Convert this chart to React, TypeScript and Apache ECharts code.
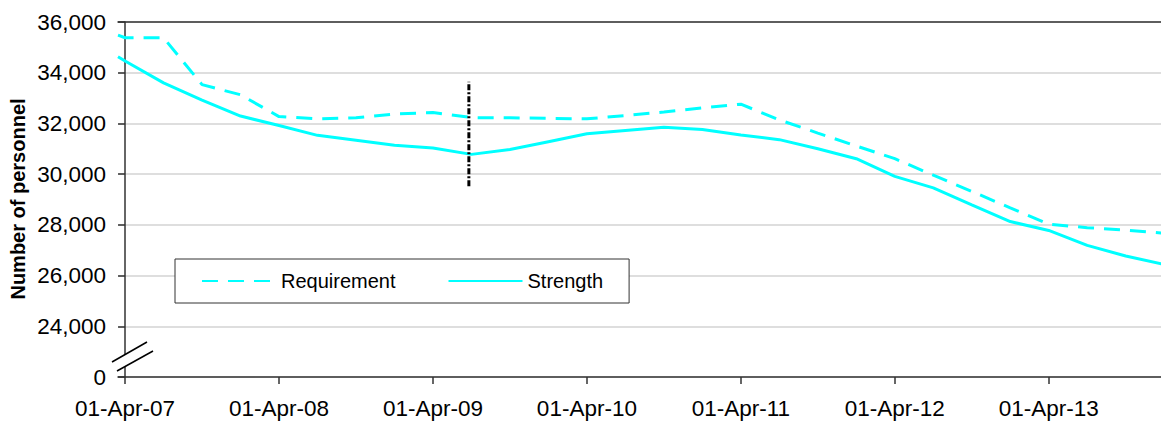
import React, { useEffect, useRef } from 'react';
import * as echarts from 'echarts';

// Months since 01-Apr-07 (quarterly observations; first one is mid-March 2007)
const months = [-0.55, 0, 3, 6, 9, 12, 15, 18, 21, 24, 27, 30, 33, 36, 39, 42, 45, 48, 51, 54, 57, 60, 63, 66, 69, 72, 75, 78, 81];

const requirement = [35480, 35380, 35380, 33530, 33130, 32270, 32180, 32220, 32370, 32430, 32230, 32220, 32200, 32180, 32310, 32450, 32610, 32760, 32140, 31620, 31110, 30610, 29960, 29320, 28670, 28030, 27890, 27790, 27670];

const strength = [34630, 34460, 33600, 32920, 32290, 31920, 31530, 31340, 31140, 31030, 30780, 30970, 31280, 31590, 31720, 31850, 31760, 31540, 31360, 31000, 30610, 29910, 29460, 28790, 28130, 27780, 27190, 26770, 26440];

const seriesNames = ['Requirement', 'Strength'];

const xTickMonths = [0, 12, 24, 36, 48, 60, 72];
const xTickLabels = ['01-Apr-07', '01-Apr-08', '01-Apr-09', '01-Apr-10', '01-Apr-11', '01-Apr-12', '01-Apr-13'];

// y axis is broken: the bottom tick (22,000 on the scale) is labelled 0
const yTicks = [22000, 24000, 26000, 28000, 30000, 32000, 34000, 36000];
const yTickLabels = ['0', '24,000', '26,000', '28,000', '30,000', '32,000', '34,000', '36,000'];

// vertical dash-dot marker line
const markerMonth = 26.8;
const markerRange = [29520, 33640];

const yTitle = 'Number of personnel';

export default function App() {
  const ref = useRef<HTMLDivElement>(null);

  useEffect(() => {
    const chart = echarts.init(ref.current!, null, { renderer: 'svg' });
    const font = '"Liberation Sans", Arial, sans-serif';
    const axisLine = { color: '#333333', width: 1.5 };
    const cyan = '#00FFFF';

    chart.setOption({
      animation: false,
      backgroundColor: '#ffffff',
      grid: { left: 118, right: 0, top: 22, bottom: 46, containLabel: false },
      xAxis: [
        {
          type: 'value',
          min: -0.55,
          max: 80.75,
          axisLine: { show: true, onZero: false, lineStyle: axisLine },
          axisTick: { show: true, length: 7, customValues: xTickMonths, lineStyle: axisLine },
          axisLabel: {
            customValues: xTickMonths,
            formatter: (v: number) => {
              const i = xTickMonths.indexOf(Math.round(v));
              return i >= 0 ? xTickLabels[i] : '';
            },
            fontSize: 22.5,
            color: '#000',
            fontFamily: font,
            margin: 20,
          },
          splitLine: { show: false },
        },
        {
          type: 'value',
          position: 'top',
          min: -0.55,
          max: 80.75,
          axisLine: { show: true, onZero: false, lineStyle: axisLine },
          axisTick: { show: false },
          axisLabel: { show: false },
          splitLine: { show: false },
        },
      ],
      yAxis: {
        type: 'value',
        min: yTicks[0],
        max: yTicks[yTicks.length - 1],
        interval: 2000,
        axisLine: { show: true, onZero: true, lineStyle: axisLine },
        axisTick: { show: true, length: 7, lineStyle: axisLine },
        axisLabel: {
          formatter: (v: number) => {
            const i = yTicks.indexOf(v);
            return i >= 0 ? yTickLabels[i] : '';
          },
          fontSize: 22.5,
          color: '#000',
          fontFamily: font,
          margin: 12,
        },
        splitLine: { show: true, lineStyle: { color: '#d3d3d3', width: 1.5 } },
      },
      legend: {
        data: seriesNames,
        left: 175,
        top: 259,
        orient: 'horizontal',
        padding: [12, 26, 12, 26],
        itemWidth: 74,
        itemHeight: 14,
        itemGap: 52,
        backgroundColor: '#ffffff',
        borderColor: '#333333',
        borderWidth: 1,
        borderRadius: 0,
        itemStyle: { opacity: 0 },
        textStyle: { fontSize: 20, color: '#000', fontFamily: font },
      },
      series: [
        {
          name: seriesNames[0],
          type: 'line',
          data: months.map((m, i) => [m, requirement[i]]),
          symbol: 'none',
          itemStyle: { color: cyan },
          lineStyle: { color: cyan, width: 3, type: [16, 10] },
        },
        {
          name: seriesNames[1],
          type: 'line',
          data: months.map((m, i) => [m, strength[i]]),
          symbol: 'none',
          itemStyle: { color: cyan },
          lineStyle: { color: cyan, width: 3, type: 'solid' },
        },
        {
          name: 'marker',
          type: 'line',
          data: [[markerMonth, markerRange[0]], [markerMonth, markerRange[1]]],
          symbol: 'none',
          silent: true,
          z: 5,
          itemStyle: { color: '#000' },
          lineStyle: { color: '#000', width: 3, type: [6, 2, 2, 2] },
        },
      ],
      graphic: [
        {
          type: 'text',
          x: 18,
          y: 199,
          rotation: Math.PI / 2,
          z: 100,
          style: {
            text: yTitle,
            fontSize: 20,
            fontWeight: 'bold',
            fontFamily: font,
            fill: '#000',
            align: 'center',
            verticalAlign: 'middle',
          },
        },
        {
          type: 'polygon',
          z: 100,
          shape: { points: [[112, 362], [147, 342], [153, 351], [117, 371]] },
          style: { fill: '#ffffff', stroke: 'none' },
        },
        {
          type: 'line',
          z: 101,
          shape: { x1: 112, y1: 362, x2: 147, y2: 342 },
          style: { stroke: '#000', lineWidth: 1.5 },
        },
        {
          type: 'line',
          z: 101,
          shape: { x1: 117, y1: 371, x2: 153, y2: 351 },
          style: { stroke: '#000', lineWidth: 1.5 },
        },
      ],
    });

    return () => chart.dispose();
  }, []);

  return (
    <div
      ref={ref}
      style={{ position: 'fixed', left: 0, top: 0, width: 1161, height: 423, background: '#fff' }}
    />
  );
}
